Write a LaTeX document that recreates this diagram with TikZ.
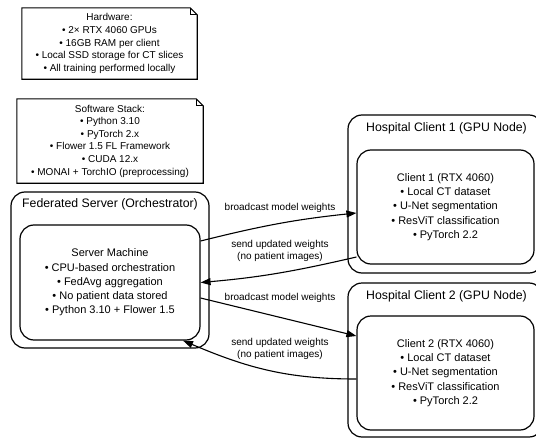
\documentclass[tikz,border=0pt]{standalone}
\usepackage{fontspec}
\setmainfont{Liberation Sans}
\usetikzlibrary{arrows.meta,calc}

\begin{document}
\begin{tikzpicture}[x=1pt,y=-1pt,
  frame/.style={draw,line width=1.2pt,rounded corners=14pt,inner sep=0pt},
  title/.style={font=\fontsize{12.3}{15}\selectfont},
  body/.style={align=center,font=\fontsize{11}{14.2}\selectfont},
  notetext/.style={align=center,inner sep=0pt,font=\fontsize{10}{12.6}\selectfont},
  notebox/.style={line width=1.1pt},
  flow/.style={line width=1.1pt,-{Triangle[length=10pt,width=7pt]}},
  flowlabel/.style={align=center,inner sep=1pt,font=\fontsize{10}{12.6}\selectfont}]

\useasboundingbox (0,0) rectangle (536,439);
\clip (0,0) rectangle (536,439);

% ---- notes with a folded corner ----
\node[notetext,minimum width=175pt,minimum height=71pt] (hw) at (109.5,43.5)
  {Hardware:\\ • 2× RTX 4060 GPUs\\ • 16GB RAM per client\\
   • Local SSD storage for CT slices\\ • All training performed locally};
\draw[notebox] (hw.north west) -- ($(hw.north east)+(-7,0)$) -- ($(hw.north east)+(0,7)$)
  -- (hw.south east) -- (hw.south west) -- cycle;
\draw[notebox] ($(hw.north east)+(-7,0)$) -- ($(hw.north east)+(-7,7)$) -- ($(hw.north east)+(0,7)$);

\node[notetext,minimum width=186pt,minimum height=84pt] (sw) at (110,141)
  {Software Stack:\\ • Python 3.10\\ • PyTorch 2.x\\ • Flower 1.5 FL Framework\\
   • CUDA 12.x\\ • MONAI + TorchIO (preprocessing)};
\draw[notebox] (sw.north west) -- ($(sw.north east)+(-7,0)$) -- ($(sw.north east)+(0,7)$)
  -- (sw.south east) -- (sw.south west) -- cycle;
\draw[notebox] ($(sw.north east)+(-7,0)$) -- ($(sw.north east)+(-7,7)$) -- ($(sw.north east)+(0,7)$);

% ---- federated server ----
\node[frame,minimum width=198pt,minimum height=156pt] (srvgroup) at (110,270) {};
\node[title] (srvtitle) at (110,204) {Federated Server (Orchestrator)};
\node[frame,body,minimum width=180pt,minimum height=115pt] (srv) at (110,282.5)
  {Server Machine\\ • CPU-based orchestration\\ • FedAvg aggregation\\
   • No patient data stored\\ • Python 3.10 + Flower 1.5};

% ---- hospital client 1 ----
\node[frame,minimum width=195pt,minimum height=158pt] (h1group) at (445.5,194) {};
\node[title] (h1title) at (446.5,128) {Hospital Client 1 (GPU Node)};
\node[frame,body,minimum width=177pt,minimum height=114pt] (c1) at (445.5,207)
  {Client 1 (RTX 4060)\\ • Local CT dataset\\ • U-Net segmentation\\
   • ResViT classification\\ • PyTorch 2.2};

% ---- hospital client 2 ----
\node[frame,minimum width=195pt,minimum height=154pt] (h2group) at (445.5,360) {};
\node[title] (h2title) at (446.5,296) {Hospital Client 2 (GPU Node)};
\node[frame,body,minimum width=177pt,minimum height=114pt] (c2) at (445.5,373)
  {Client 2 (RTX 4060)\\ • Local CT dataset\\ • U-Net segmentation\\
   • ResViT classification\\ • PyTorch 2.2};

% ---- model exchange ----
\draw[flow] ([yshift=41.5pt]srv.east) to[out=14,in=186] ([yshift=-6pt]c1.west);
\draw[flow] ([yshift=-50pt]c1.west) to[out=193,in=5] (srv.east);
\draw[flow] ([yshift=-15.5pt]srv.east) -- ([yshift=37pt]c2.west);
\draw[flow] ([yshift=-6pt]c2.west) to[out=180,in=-23] ([xshift=73pt]srv.south);

\node[flowlabel] (l1) at (280,208) {broadcast model weights};
\node[flowlabel] (l2) at (280,251) {send updated weights\\(no patient images)};
\node[flowlabel] (l3) at (280,298) {broadcast model weights};
\node[flowlabel] (l4) at (280,349) {send updated weights\\(no patient images)};
\end{tikzpicture}
\end{document}
